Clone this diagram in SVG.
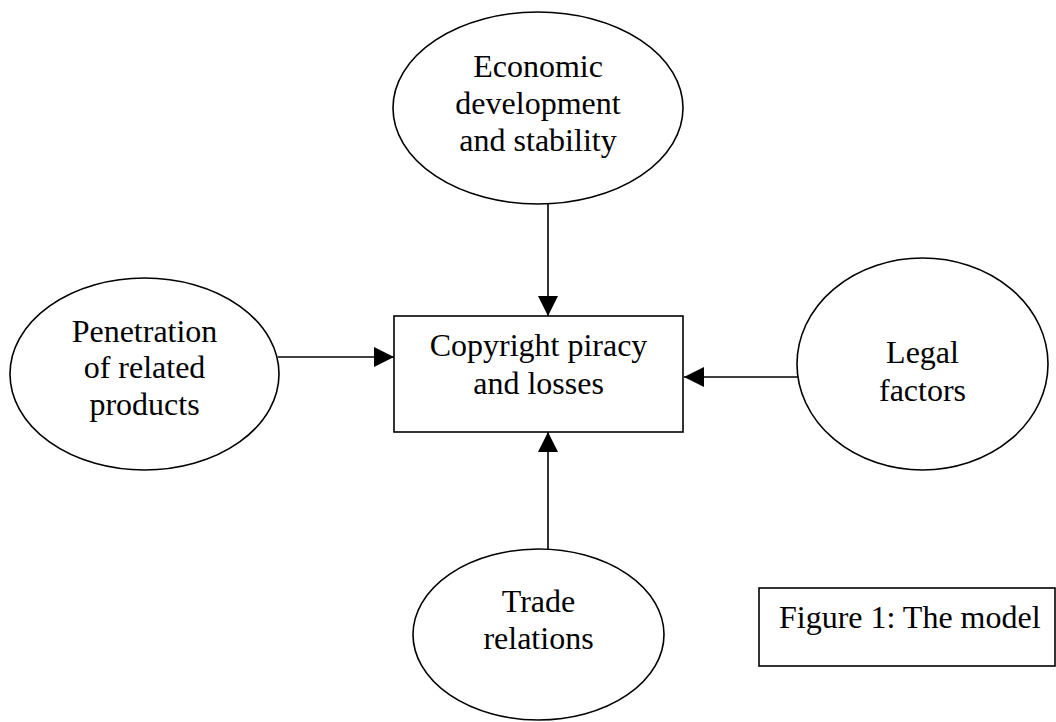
<svg xmlns="http://www.w3.org/2000/svg" width="1056" height="722" viewBox="0 0 1056 722">
<style>
.shape{fill:#fff;stroke:#000;stroke-width:1.6}
.lbl{font-family:"Liberation Serif","Times New Roman",serif;font-size:32px;fill:#000;text-anchor:middle}
.conn{stroke:#000;stroke-width:1.6;fill:none;marker-end:url(#arr)}
</style>
<defs>
<marker id="arr" markerUnits="userSpaceOnUse" markerWidth="20" markerHeight="20" refX="20" refY="10" orient="auto">
<path d="M0,0 L20,10 L0,20 z" fill="#000"/>
</marker>
</defs>
<rect width="1056" height="722" fill="#fff"/>
<g id="connectors">
<line class="conn" x1="548" y1="204" x2="548" y2="316"/>
<line class="conn" x1="278" y1="357" x2="394" y2="357"/>
<line class="conn" x1="798" y1="377" x2="684" y2="377"/>
<line class="conn" x1="548" y1="549" x2="548" y2="432"/>
</g>
<g id="economic">
<ellipse class="shape" cx="538" cy="108" rx="145" ry="96"/>
<text class="lbl" x="538" y="77">Economic</text>
<text class="lbl" x="538" y="114">development</text>
<text class="lbl" x="538" y="151">and stability</text>
</g>
<g id="penetration">
<ellipse class="shape" cx="144.5" cy="374" rx="134.5" ry="96"/>
<text class="lbl" x="144.5" y="342">Penetration</text>
<text class="lbl" x="144.5" y="378">of related</text>
<text class="lbl" x="144.5" y="415">products</text>
</g>
<g id="legal">
<ellipse class="shape" cx="922.5" cy="364" rx="125.5" ry="106"/>
<text class="lbl" x="922.5" y="363">Legal</text>
<text class="lbl" x="922.5" y="401">factors</text>
</g>
<g id="trade">
<ellipse class="shape" cx="538.5" cy="634.5" rx="125.5" ry="85.5"/>
<text class="lbl" x="538.5" y="612">Trade</text>
<text class="lbl" x="538.5" y="649">relations</text>
</g>
<g id="copyright">
<rect class="shape" x="394" y="316" width="289" height="116"/>
<text class="lbl" x="538.5" y="356">Copyright piracy</text>
<text class="lbl" x="538.5" y="394">and losses</text>
</g>
<g id="caption">
<rect class="shape" x="759" y="588" width="296" height="78"/>
<text class="lbl" x="779" y="628" style="text-anchor:start">Figure 1: The model</text>
</g>
</svg>
